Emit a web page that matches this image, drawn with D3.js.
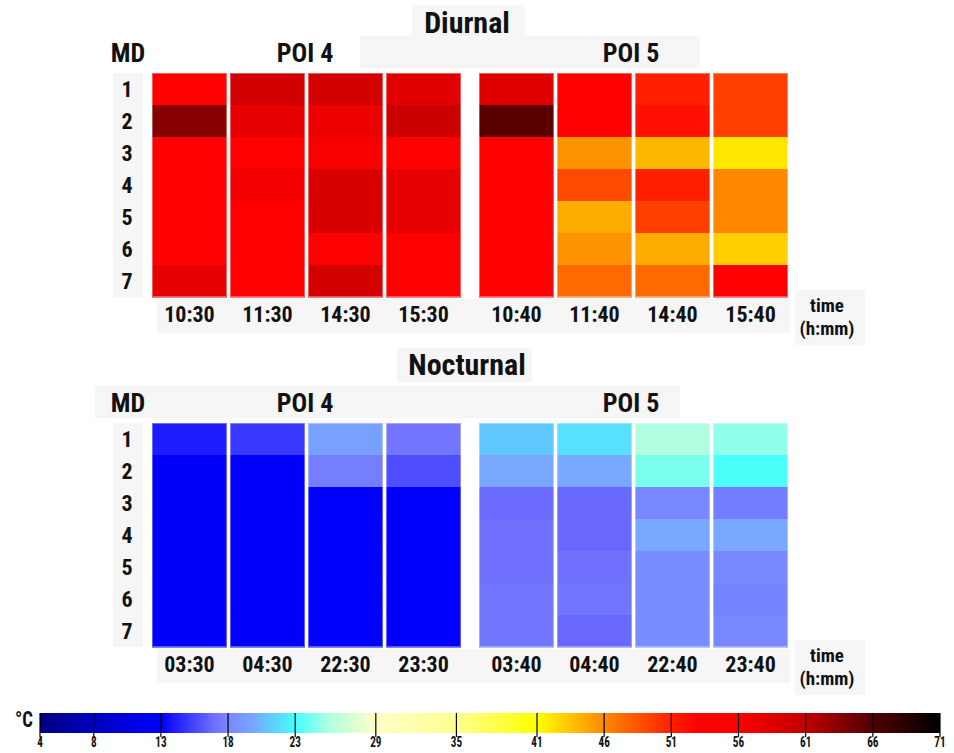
<!DOCTYPE html>
<html>
<head>
<meta charset="utf-8">
<script src="https://cdn.jsdelivr.net/npm/d3@7"></script>
<style>
body{margin:0;background:#fff;}
text{font-family:"Liberation Sans Narrow","Arial Narrow","Roboto Condensed",Roboto,sans-serif;font-weight:bold;fill:#111;}
</style>
</head>
<body>
<script>
var md=[1,2,3,4,5,6,7]
var dayTimes4=["10:30","11:30","14:30","15:30"]
var dayTimes5=["10:40","11:40","14:40","15:40"]
var nightTimes4=["03:30","04:30","22:30","23:30"]
var nightTimes5=["03:40","04:40","22:40","23:40"]
// one array per time column, MD 1..7, temperature in deg C
var dayPOI4=[
  [55,63.5,55,55,55,55,58],
  [59.5,58,55.5,57,55,55,55],
  [59.5,57.5,56.5,59,59,55.5,59.5],
  [58.5,60,55,58,58,55,55]
]
var dayPOI5=[
  [58.5,65.5,55,55,55,55,55],
  [54,54,45.5,49,44.5,45.5,47.5],
  [51,52,44,51,49.5,44.5,47.5],
  [49.5,49.5,42,46,46,43,55]
]
var nightPOI4=[
  [14,12.4,12.4,12.4,12.4,12.5,12.5],
  [15,12.7,12.7,12.7,12.7,12.7,12.7],
  [19.5,17.6,13,13,13,13,13],
  [17.2,15.8,13,13,13,13,13]
]
var nightPOI5=[
  [21,20,16.8,17,17,17.3,17.3],
  [22,20,16.7,16.7,17,17.2,16.7],
  [25.5,24.3,18,20,18.4,18.3,18.4],
  [24.8,23.3,17.5,20,18,17.8,18]
]
var barTicks=[4,8,13,18,23,29,35,41,46,51,56,61,66,71]
var cmapStops=[4,8,13,15,17,18,20,21,22,23,25.5,29,35,41,46,51,53,56,61,66,71]
var cmapColors=["#000080","#0000c0","#0000ff","#3838ff","#7070ff","#7888ff","#78a8ff","#60c8ff","#58e0ff","#40ffff","#b0ffe0","#ffffc8","#ffff90","#ffff00","#ff8800","#ff2000","#ff0000","#ff0000","#c00000","#500000","#000000"]

var W=954,H=753
var color=d3.scaleLinear().domain(cmapStops).range(cmapColors).clamp(true)

var svg=d3.select("body").append("svg")
  .attr("width",W).attr("height",H)

function box(x,y,w,h){
  svg.append("rect").attr("x",x).attr("y",y).attr("width",w).attr("height",h).attr("fill","#f6f6f6")
}
function label(x,y,t,size,anchor){
  return svg.append("text").attr("x",x).attr("y",y).attr("font-size",size)
    .attr("text-anchor",anchor||"middle").text(t)
}

function drawPanel(top,title,t4,t5,v4,v5,o){
  var y0=top+73,y1=top+297
  var ys=d3.scaleBand().domain(md).range([y0,y1])
  // background boxes
  box(o.tx,o.ty,o.tw,o.th)
  box(o.rx,top+36,o.rw,32)
  box(113,y0,30,y1-y0)
  box(157,y1+2,633,34)
  box(795,y1-7,70,55)
  label(467,o.tb,title,30)
  label(128,top+62,"MD",26)
  label(305,top+62,"POI 4",26)
  label(631,top+62,"POI 5",26)
  svg.append("g").selectAll("text").data(md).enter().append("text")
    .attr("x",127).attr("y",function(d){return ys(d)+ys.bandwidth()/2+8})
    .attr("text-anchor","middle").attr("font-size",22).text(function(d){return d})
  var blocks=[{t:t4,v:v4,x0:152,x1:461},{t:t5,v:v5,x0:479,x1:788}]
  blocks.forEach(function(b){
    var xs=d3.scaleBand().domain(b.t).range([b.x0,b.x1]).paddingInner(0.04)
    var cols=svg.append("g").selectAll("g").data(b.t).enter().append("g")
    cols.selectAll("rect").data(function(d,i){
        return b.v[i].map(function(v,j){return {t:d,md:md[j],v:v}})
      }).enter().append("rect")
      .attr("x",function(d){return xs(d.t)})
      .attr("y",function(d){return ys(d.md)})
      .attr("width",xs.bandwidth())
      .attr("height",ys.bandwidth()+0.5)
      .attr("fill",function(d){return color(d.v)})
    cols.append("rect")
      .attr("x",function(d){return xs(d)+0.5}).attr("y",y0+0.5)
      .attr("width",xs.bandwidth()-1).attr("height",y1-y0-1)
      .attr("fill","none").attr("stroke","rgba(255,255,255,0.35)")
    svg.append("g").selectAll("text").data(b.t).enter().append("text")
      .attr("x",function(d){return xs(d)+xs.bandwidth()/2})
      .attr("y",y1+25).attr("text-anchor","middle").attr("font-size",22)
      .text(function(d){return d})
  })
  label(827,y1+15,"time",19)
  label(827,y1+38,"(h:mm)",19)
}

drawPanel(0,"Diurnal",dayTimes4,dayTimes5,dayPOI4,dayPOI5,
  {tx:412,ty:5,tw:113,th:31,tb:33,rx:360,rw:340})
drawPanel(350,"Nocturnal",nightTimes4,nightTimes5,nightPOI4,nightPOI5,
  {tx:397,ty:348,tw:135,th:34,tb:375,rx:95,rw:585})

// colour bar
var bx=d3.scaleLinear().domain([4,71]).range([40,940])
var grad=svg.append("defs").append("linearGradient").attr("id","cbar")
grad.selectAll("stop").data(cmapStops).enter().append("stop")
  .attr("offset",function(d){return (d-4)/67})
  .attr("stop-color",function(d,i){return cmapColors[i]})
svg.append("rect").attr("x",bx(4)).attr("y",713).attr("width",bx(71)-bx(4)).attr("height",20)
  .attr("fill","url(#cbar)")
var ax=svg.append("g").attr("transform","translate(0,713)")
ax.selectAll("line").data(barTicks).enter().append("line")
  .attr("x1",function(d){return bx(d)}).attr("x2",function(d){return bx(d)})
  .attr("y1",0).attr("y2",24).attr("stroke","#000").attr("stroke-width",1.2)
ax.selectAll("g.tl").data(barTicks).enter().append("g")
  .attr("class","tl")
  .attr("transform",function(d){return "translate("+bx(d)+",34) scale(0.8,1)"})
  .append("text").attr("text-anchor","middle").attr("font-size",14)
  .text(function(d){return d})
svg.append("g").attr("transform","translate(24,727) scale(0.85,1)")
  .append("text").attr("text-anchor","middle").attr("font-size",22).text("°C")
</script>
</body>
</html>
